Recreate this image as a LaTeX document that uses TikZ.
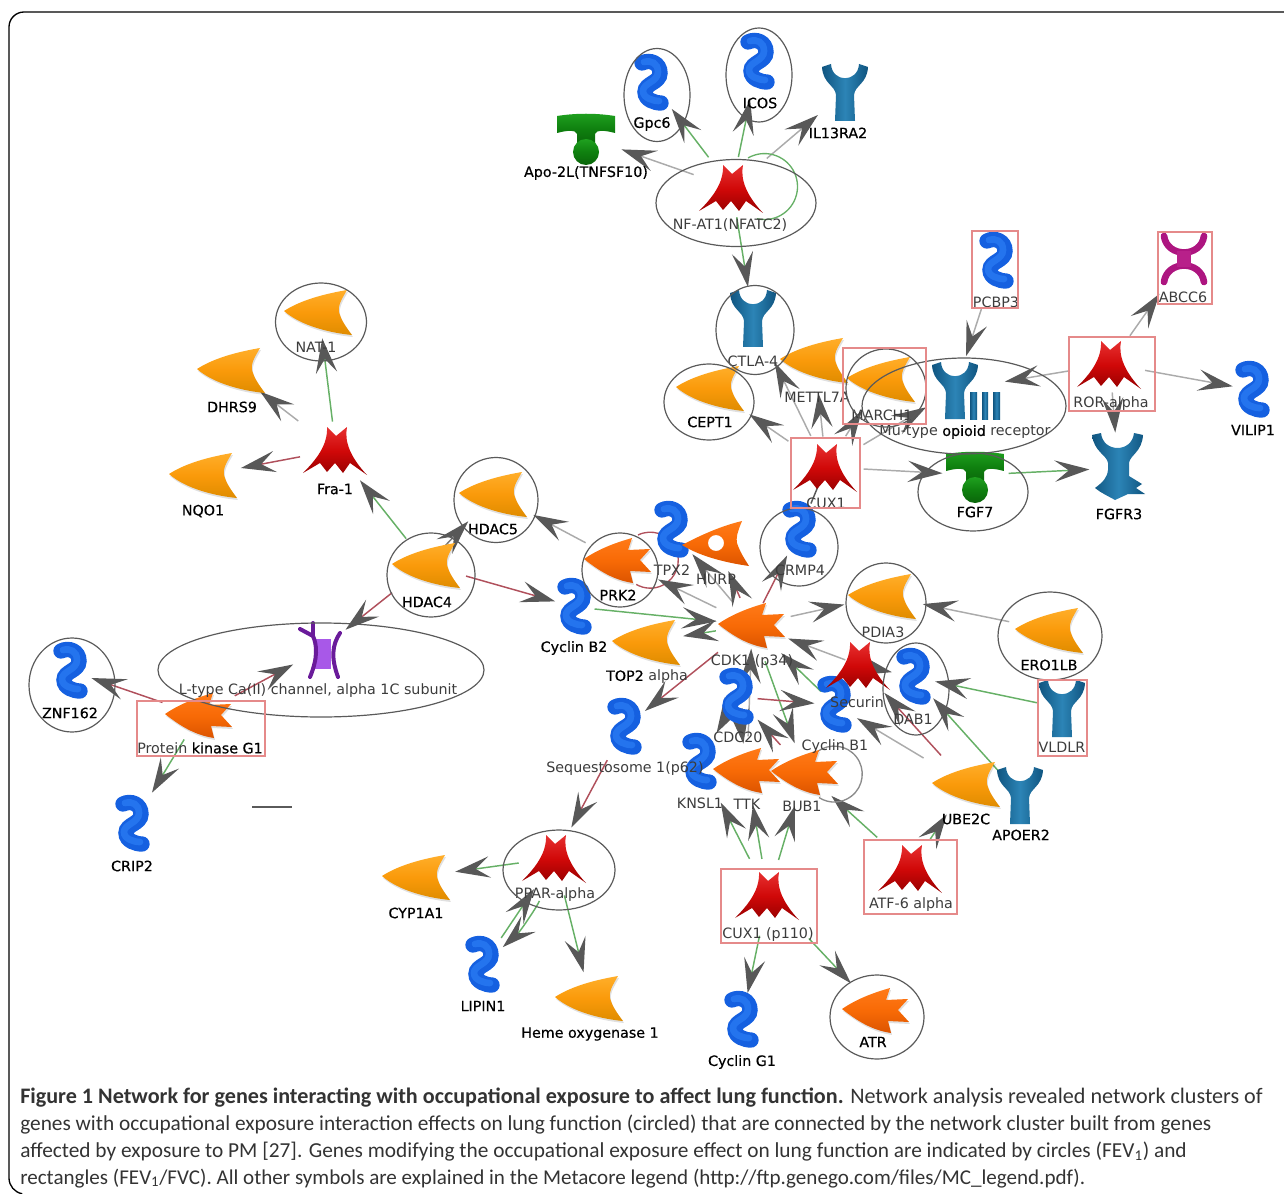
\documentclass[tikz,border=0pt]{standalone}
\usepackage{fontspec}
\setmainfont{Carlito}
\newfontfamily\labn{DejaVu Sans}
\newfontfamily\labb{DejaVu Sans}[FakeBold=0.5]
\usetikzlibrary{arrows.meta,calc}
\definecolor{tipgray}{HTML}{585858}
\definecolor{eggreen}{HTML}{66B066}
\definecolor{egred}{HTML}{B0505C}
\definecolor{eggray}{HTML}{ABABAB}
\definecolor{ringc}{HTML}{5A5A5A}
\definecolor{selc}{HTML}{E58A8A}
\definecolor{labc}{HTML}{3C3C3C}
\definecolor{capc}{HTML}{333333}
\definecolor{orgA}{HTML}{FFAE2A}\definecolor{orgB}{HTML}{DF8C00}\definecolor{orgC}{HTML}{FA9A0A}
\definecolor{kinA}{HTML}{FF7A18}\definecolor{kinB}{HTML}{DC5400}\definecolor{kinC}{HTML}{F86A06}
\definecolor{redA}{HTML}{E63030}\definecolor{redB}{HTML}{960000}\definecolor{redC}{HTML}{D00808}
\definecolor{bluA}{HTML}{105580}\definecolor{bluC}{HTML}{2C84B6}
\definecolor{grnA}{HTML}{1FA01F}\definecolor{grnB}{HTML}{0A650A}\definecolor{grnC}{HTML}{0F800F}
\definecolor{sqA}{HTML}{1560E0}\definecolor{sqB}{HTML}{2474EE}
\definecolor{magA}{HTML}{AD1580}\definecolor{magB}{HTML}{B8208A}
\definecolor{purA}{HTML}{6A1B9A}\definecolor{purB}{HTML}{A858E8}
\tikzset{
  px/.style={x=0.75pt,y=-0.75pt},
  hub/.style={circle,inner sep=0pt,minimum size=0.5pt},
  gap/.style args={#1/#2}{shorten <=#1*0.75pt,shorten >=#2*0.75pt},
  arr/.style={line width=1.1pt,-{Stealth[length=26pt,width=16pt,inset=10.5pt,color=tipgray]}},
  eg/.style={arr,draw=eggreen},
  er/.style={arr,draw=egred},
  ek/.style={arr,draw=eggray},
  ed/.style={arr,draw=tipgray!80},
  ring/.style={draw=ringc,line width=0.9pt},
  sel/.style={draw=selc,line width=0.9pt},
  lab/.style={inner sep=0pt,font=\labn\fontsize{10.7pt}{12pt}\selectfont,text=labc},
  labk/.style={inner sep=0pt,font=\labb\fontsize{10.7pt}{12pt}\selectfont,text=black},
  capl/.style={anchor=base west,inner sep=0pt,font=\fontsize{16pt}{18pt}\selectfont,text=capc},
  orgfill/.style={top color=orgA,bottom color=orgB,middle color=orgC},
  kinfill/.style={top color=kinA,bottom color=kinB,middle color=kinC},
  redfill/.style={top color=redA,bottom color=redB,middle color=redC},
  bluefill/.style={left color=bluA,right color=bluA,middle color=bluC},
  grnfill/.style={top color=grnA,bottom color=grnB,middle color=grnC},
  pics/ligand/.style={code={
    \def\shp{(-35,-1) .. controls (-18,-12) and (5,-18) .. (28,-22) .. controls (21,-10) and (19,-6) .. (20,0) .. controls (22,8) and (27,15) .. (33,23) .. controls (12,21) and (-18,14) .. (-35,-1) -- cycle}
    \fill[black,opacity=.12,shift={(1,2)}] \shp;
    \shade[orgfill] \shp;}},
  pics/kinase/.style={code={
    \def\shp{(-34,-1) .. controls (-18,-12) and (0,-18) .. (14,-22) -- (10,-10) -- (32,-11) -- (22,0) -- (33,12) -- (12,11) -- (15,23) .. controls (-5,20) and (-20,10) .. (-34,-1) -- cycle}
    \fill[black,opacity=.12,shift={(1,2)}] \shp;
    \shade[kinfill] \shp;}},
  pics/tfstar/.style={code={
    \def\shp{(-9,-23) -- (0,-14) -- (11,-23) .. controls (8,-8) and (15,8) .. (31,25) -- (14,13) -- (7,23) -- (-1,13) -- (-9,22) -- (-16,13) -- (-33,23) .. controls (-20,10) and (-8,-5) .. (-9,-23) -- cycle}
    \shade[redfill] \shp;}},
  pics/squig/.style={code={
    \draw[line cap=round,line width=11.5pt,draw=sqA] (-10,-20) .. controls (-2,-24) and (8,-20) .. (8,-10) .. controls (8,0) and (-7,0) .. (-7,9) .. controls (-7,17) and (3,20) .. (9,20);
    \draw[line cap=round,line width=5pt,draw=sqB] (-8,-21) .. controls (-1,-23) and (6,-20) .. (6,-11) .. controls (6,-1) and (-9,0) .. (-9,8) .. controls (-9,15) and (1,18) .. (7,18);}},
  pics/yrec/.style={code={
    \shade[bluefill] (-23,-25) -- (-14,-28) .. controls (-13,-9) and (13,-9) .. (14,-28) -- (23,-25) .. controls (22,-8) and (10,-7) .. (9,3) -- (10,29) -- (-10,29) -- (-9,3) .. controls (-10,-7) and (-22,-8) .. (-23,-25) -- cycle;}},
  pics/muopi/.style={code={
    \shade[bluefill] (-23,-25) -- (-14,-28) .. controls (-13,-9) and (13,-9) .. (14,-28) -- (23,-25) .. controls (22,-8) and (10,-7) .. (9,3) -- (10,29) -- (-10,29) -- (-9,3) .. controls (-10,-7) and (-22,-8) .. (-23,-25) -- cycle;
    \shade[bluefill] (15,2) rectangle (22,29);
    \shade[bluefill] (27,2) rectangle (33,29);
    \shade[bluefill] (38,2) rectangle (45,29);}},
  pics/fgfr/.style={code={
    \shade[bluefill] (-26,-33) -- (-17,-35) .. controls (-15,-15) and (14,-15) .. (16,-35) -- (25,-33) .. controls (24,-16) and (12,-13) .. (11,-5) -- (11,8) -- (24,16) -- (18,20) -- (27,26) -- (10,26) -- (-3,32) .. controls (-10,28) and (-17,25) .. (-23,20) .. controls (-15,14) and (-11,10) .. (-10,2) -- (-10,-5) .. controls (-11,-13) and (-24,-16) .. (-26,-33) -- cycle;}},
  pics/tlig/.style={code={
    \shade[grnfill] (-29,-21) .. controls (-10,-24) and (10,-24) .. (29,-21) -- (29,-4) .. controls (18,-7) and (10,-7) .. (9,-3) -- (9,8) -- (-9,8) -- (-9,-3) .. controls (-10,-7) and (-18,-7) .. (-29,-4) -- cycle;
    \shade[grnfill] (0,15) circle[radius=13];}},
  pics/hurpg/.style={code={
    \shade[kinfill,even odd rule] (-34,2) .. controls (-15,-8) and (5,-17) .. (26,-22) .. controls (21,-10) and (20,-5) .. (21,0) .. controls (24,9) and (28,15) .. (33,23) .. controls (12,20) and (-15,14) .. (-34,2) -- cycle (0,0) circle[radius=8];}},
  pics/abcx/.style={code={
    \draw[line width=5pt,draw=magA,line cap=round] (-20,-23) .. controls (-17,-1) and (17,-1) .. (20,-23);
    \draw[line width=5pt,draw=magA,line cap=round] (-20,23) .. controls (-17,1) and (17,1) .. (20,23);
    \fill[magB] (-7,-8) rectangle (7,8);}},
  pics/chan/.style={code={
    \fill[purB] (-5,-11) rectangle (11,19);
    \draw[line width=3pt,draw=purA,line cap=round] (-20,-21) -- (-7,-14) .. controls (-3,-5) and (-2,8) .. (-10,27);
    \draw[line width=3pt,draw=purA,line cap=round] (-7,-27) -- (-7,-14);
    \draw[line width=3pt,draw=purA,line cap=round] (20,-17) .. controls (12,-5) and (11,8) .. (18,27);}}
}
\begin{document}
\begin{tikzpicture}[px]
\useasboundingbox (0,0) rectangle (1284,1194);
% frame
\draw[line width=1pt,black] (1284,12) -- (24,12) arc[start angle=-90,end angle=-180,radius=15] -- (9,1178) arc[start angle=180,end angle=100,radius=16];
% node anchors
\node[hub] (NFAT) at (732,188) {};
\node[hub] (GPC) at (652,83) {};
\node[hub] (ICOS) at (758,62) {};
\node[hub] (IL) at (845,92) {};
\node[hub] (APO) at (586,137) {};
\node[hub] (CTLA) at (753,318) {};
\node[hub] (METT) at (815,360) {};
\node[hub] (MARCH) at (882,379) {};
\node[hub] (CEPT) at (711,388) {};
\node[hub] (MU) at (955,390) {};
\node[hub] (PCBP) at (997,261) {};
\node[hub] (ABCC) at (1184,259) {};
\node[hub] (ROR) at (1110,364) {};
\node[hub] (VILIP) at (1253,390) {};
\node[hub] (FGFR) at (1118,468) {};
\node[hub] (FGF) at (975,475) {};
\node[hub] (CUX) at (826,467) {};
\node[hub] (CRMP) at (800,530) {};
\node[hub] (TPX) at (672,530) {};
\node[hub] (HURP) at (716,543) {};
\node[hub] (PRK) at (618,560) {};
\node[hub] (CYB2) at (575,607) {};
\node[hub] (TOP) at (647,642) {};
\node[hub] (CDK) at (752,625) {};
\node[hub] (PDIA) at (883,596) {};
\node[hub] (SEC) at (859,665) {};
\node[hub] (DAB) at (914,677) {};
\node[hub] (CYB1) at (835,705) {};
\node[hub] (CDC) at (737,697) {};
\node[hub] (KNSL) at (700,762) {};
\node[hub] (TTK) at (747,770) {};
\node[hub] (BUB) at (805,772) {};
\node[hub] (SEQ) at (625,727) {};
\node[hub] (UBE) at (967,784) {};
\node[hub] (APOE) at (1020,795) {};
\node[hub] (VLD) at (1062,708) {};
\node[hub] (ERO) at (1050,630) {};
\node[hub] (ATF) at (911,868) {};
\node[hub] (P110) at (768,895) {};
\node[hub] (CYG) at (742,1020) {};
\node[hub] (ATR) at (876,1010) {};
\node[hub] (PPAR) at (555,858) {};
\node[hub] (CYP) at (417,877) {};
\node[hub] (LIP) at (483,965) {};
\node[hub] (HEME) at (590,998) {};
\node[hub] (HD5) at (494,494) {};
\node[hub] (HD4) at (427,565) {};
\node[hub] (FRA) at (336,450) {};
\node[hub] (NAT) at (319,312) {};
\node[hub] (DHR) at (232,370) {};
\node[hub] (NQO) at (204,475) {};
\node[hub] (LTY) at (320,650) {};
\node[hub] (PKG) at (199,715) {};
\node[hub] (ZNF) at (71,671) {};
\node[hub] (CRIP) at (133,824) {};
% connectors
\draw[eg,gap=38/32] (NFAT) -- (GPC);
\draw[eg,gap=31/38] (NFAT) -- (ICOS);
\draw[ek,gap=45/35] (NFAT) -- (IL);
\draw[ek,gap=40/37] (NFAT) -- (APO);
\draw[eg,gap=29/31] (NFAT) -- (CTLA);
\draw[line width=1pt,eggreen] ($(NFAT)+(16,-30)$) arc[start angle=-120,end angle=103,radius=33];
\draw[ek,gap=45/46] (CUX) -- (CEPT);
\draw[ek,gap=34/49] (CUX) -- (CTLA);
\draw[ek,gap=30/33] (CUX) -- (METT);
\draw[ek,gap=36/37] (CUX) -- (MARCH);
\draw[ek,gap=43/33] (CUX) -- (MU);
\draw[ek,gap=37/32] (CUX) -- (FGF);
\draw[line width=1.1pt,tipgray,gap=15/28] (CUX) -- (CRMP);
\draw[eg,gap=33/28] (FGF) -- (FGFR);
\draw[ek,gap=50/35] (PCBP) -- (MU);
\draw[ek,gap=40/50] (ROR) -- (MU);
\draw[ek,gap=34/42] (ROR) -- (ABCC);
\draw[ek,gap=35/20] (ROR) -- (VILIP);
\draw[ek,gap=28/35] (ROR) -- (FGFR);
\draw[eg,gap=28/26] (FRA) -- (NAT);
\draw[ek,gap=47/35] (FRA) -- (DHR);
\draw[er,gap=36/37] (FRA) -- (NQO);
\draw[eg,gap=33/38] (HD4) -- (FRA);
\draw[ed,gap=25/37] (HD4) -- (HD5);
\draw[er,gap=40/20] (HD4) -- (CYB2);
\draw[er,gap=44/32] (HD4) -- (LTY);
\draw[ek,gap=36/44] (PRK) -- (HD5);
\draw[line width=1pt,egred] ($(PRK)+(20,-25)$) arc[start angle=-116,end angle=120,radius=28];
\draw[er,gap=40/30] (PKG) -- (LTY);
\draw[er,gap=38/21] (PKG) -- (ZNF);
\draw[eg,gap=28/36] (PKG) -- (CRIP);
\draw[er,gap=43/25] (CDK) -- (SEQ);
\draw[er,gap=37/34] (SEQ) -- (PPAR);
\draw[eg,gap=36/38] (PPAR) -- (CYP);
\draw[eg,gap=32/37] (LIP) -- (PPAR);
\draw[eg,gap=45/26] (PPAR) to[bend left=14] (LIP);
\draw[eg,gap=38/26] (PPAR) -- (HEME);
\draw[eg,gap=40/45] (P110) -- (KNSL);
\draw[eg,gap=36/35] (P110) -- (TTK);
\draw[eg,gap=36/35] (P110) -- (BUB);
\draw[eg,gap=41/27] (P110) -- (CYG);
\draw[eg,gap=59/36] (P110) -- (ATR);
\draw[eg,gap=45/35] (ATF) -- (BUB);
\draw[eg,gap=34/36] (ATF) -- (UBE);
\draw[ek,gap=50/25] (UBE) -- (CYB1);
\draw[er,gap=38/37] (UBE) -- (SEC);
\draw[eg,gap=30/28] (APOE) -- (DAB);
\draw[eg,gap=25/21] (VLD) -- (DAB);
\draw[ek,gap=41/40] (ERO) -- (PDIA);
\draw[ed,gap=15/22] (SEC) -- (DAB);
\draw[ek,gap=14/38] (SEC) -- (CDK);
\draw[ek,gap=39/39] (CDK) -- (PDIA);
\draw[ek,gap=39/44] (CDK) -- (PRK);
\draw[ek,gap=29/31] (CDK) -- (TPX);
\draw[er,gap=29/30] (CDK) -- (HURP);
\draw[er,gap=24/28] (CDK) -- (CRMP);
\draw[eg,gap=19/35] (CYB2) -- (CDK);
\draw[eg,gap=36/36] (CDK) -- (TOP);
\draw[eg,gap=19/40] (CYB1) -- (CDK);
\draw[eg,gap=38/30] (CDK) -- (BUB);
\draw[ek,gap=33/23] (TTK) -- (CDK);
\draw[ed,gap=14/33] (CDC) -- (KNSL);
\draw[ed,gap=24/26] (CDC) -- (TTK);
\draw[er,gap=36/30] (BUB) -- (CDC);
\draw[er,gap=20/20] (CDC) -- (CYB1);
\draw[line width=1pt,ringc!70] ($(BUB)+(12,-20)$) arc[start angle=-128,end angle=123,radius=28];
% stray bar
\draw[line width=1.2pt,ringc] (252,807) -- (292,807);
% glyphs
\pic at (GPC) {squig}; \pic at (ICOS) {squig}; \pic at (IL) {yrec}; \pic at (APO) {tlig};
\pic at (NFAT) {tfstar}; \pic at (CTLA) {yrec}; \pic at (METT) {ligand}; \pic at (MARCH) {ligand};
\pic at (CEPT) {ligand}; \pic at (MU) {muopi}; \pic at (PCBP) {squig}; \pic at (ABCC) {abcx};
\pic at (ROR) {tfstar}; \pic at (VILIP) {squig}; \pic at (FGFR) {fgfr}; \pic at (FGF) {tlig};
\pic at (CUX) {tfstar}; \pic at (CRMP) {squig}; \pic at (TPX) {squig}; \pic at (HURP) {hurpg};
\pic at (PRK) {kinase}; \pic at (CYB2) {squig}; \pic at (TOP) {ligand}; \pic at (CDK) {kinase};
\pic at (PDIA) {ligand}; \pic at (DAB) {squig}; \pic at (CYB1) {squig}; \pic at (SEC) {tfstar};
\pic at (CDC) {squig}; \pic at (KNSL) {squig}; \pic at (TTK) {kinase}; \pic at (BUB) {kinase};
\pic at (SEQ) {squig}; \pic at (UBE) {ligand}; \pic at (APOE) {yrec}; \pic at (VLD) {yrec};
\pic at (ERO) {ligand}; \pic at (ATF) {tfstar}; \pic at (P110) {tfstar}; \pic at (CYG) {squig};
\pic at (ATR) {kinase}; \pic at (PPAR) {tfstar}; \pic at (CYP) {ligand}; \pic at (LIP) {squig};
\pic at (HEME) {ligand}; \pic at (HD5) {ligand}; \pic at (HD4) {ligand}; \pic at (FRA) {tfstar};
\pic at (NAT) {ligand}; \pic at (DHR) {ligand}; \pic at (NQO) {ligand}; \pic at (LTY) {chan};
\pic at (PKG) {kinase}; \pic at (ZNF) {squig}; \pic at (CRIP) {squig};
% labels
\node[lab] (lNFAT) at (730,225) {NF-AT1(NFATC2)};
\node[labk] (lGPC) at (652,124) {Gpc6};
\node[labk] (lICOS) at (760,103) {ICOS};
\node[labk] (lIL) at (838,133) {IL13RA2};
\node[labk] (lAPO) at (586,173) {Apo-2L(TNFSF10)};
\node[lab] (lCTLA) at (753,361) {CTLA-4};
\node[lab] (lMETT) at (817,397) {METTL7A};
\node[lab] (lMARCH) at (882,415) {MARCH1};
\node[labk] (lCEPT) at (710,422) {CEPT1};
\node[lab] (lMU) at (965,432) {Mu-type {\labb\color{black}opioid} receptor};
\node[lab] (lPCBP) at (996,302) {PCBP3};
\node[lab] (lABCC) at (1183,297) {ABCC6};
\node[lab] (lROR) at (1111,404) {ROR-alpha};
\node[labk] (lVILIP) at (1253,430) {VILIP1};
\node[labk] (lFGFR) at (1119,514) {FGFR3};
\node[labk] (lFGF) at (975,512) {FGF7};
\node[lab] (lCUX) at (826,503) {CUX1};
\node[lab] (lCRMP) at (800,570) {CRMP4};
\node[lab] (lTPX) at (672,570) {TPX2};
\node[lab] (lHURP) at (716,579) {HURP};
\node[labk] (lPRK) at (618,595) {PRK2};
\node[labk] (lCYB2) at (574,648) {Cyclin B2};
\node[lab] (lTOP) at (647,677) {{\labb\color{black}TOP2} alpha};
\node[lab] (lCDK) at (752,662) {CDK1 (p34)};
\node[lab] (lPDIA) at (883,632) {PDIA3};
\node[lab] (lSEC) at (857,702) {Securin};
\node[lab] (lDAB) at (913,719) {DAB1};
\node[lab] (lCYB1) at (835,747) {Cyclin B1};
\node[lab] (lCDC) at (738,737) {CDC20};
\node[lab] (lSEQ) at (625,769) {Sequestosome 1(p62)};
\node[lab] (lKNSL) at (700,803) {KNSL1};
\node[lab] (lTTK) at (747,804) {TTK};
\node[lab] (lBUB) at (802,806) {BUB1};
\node[labk] (lUBE) at (966,819) {UBE2C};
\node[labk] (lAPOE) at (1021,835) {APOER2};
\node[lab] (lVLD) at (1062,747) {VLDLR};
\node[labk] (lERO) at (1049,665) {ERO1LB};
\node[lab] (lATF) at (911,905) {ATF-6 alpha};
\node[lab] (lP110) at (768,935) {CUX1 (p110)};
\node[labk] (lCYG) at (742,1062) {Cyclin G1};
\node[labk] (lATR) at (873,1042) {ATR};
\node[lab] (lPPAR) at (555,895) {PPAR-alpha};
\node[labk] (lCYP) at (416,913) {CYP1A1};
\node[labk] (lLIP) at (483,1006) {LIPIN1};
\node[labk] (lHEME) at (590,1034) {Heme oxygenase 1};
\node[labk] (lHD5) at (493,529) {HDAC5};
\node[labk] (lHD4) at (427,602) {HDAC4};
\node[labk] (lFRA) at (335,489) {Fra-1};
\node[lab] (lNAT) at (316,347) {NAT-1};
\node[labk] (lDHR) at (232,407) {DHRS9};
\node[labk] (lNQO) at (203,511) {NQO1};
\node[lab] (lLTY) at (318,691) {L-type Ca(II) channel, alpha 1C subunit};
\node[lab] (lPKG) at (200,748) {Protein {\labb\color{black}kinase G1}};
\node[labk] (lZNF) at (70,713) {ZNF162};
\node[labk] (lCRIP) at (132,866) {CRIP2};
% circled and boxed genes
\draw[ring] (736,203) ellipse[x radius=80,y radius=43.5];
\draw[ring] (657,95) ellipse[x radius=33,y radius=46.5];
\draw[ring] (759,75) ellipse[x radius=33,y radius=47];
\draw[ring] (755,330) ellipse[x radius=39,y radius=44.5];
\draw[ring] (886,388) ellipse[x radius=40,y radius=39];
\draw[ring] (709,402) ellipse[x radius=45,y radius=38];
\draw[ring] (964,406) ellipse[x radius=102,y radius=48];
\draw[ring] (973,492) ellipse[x radius=55,y radius=39];
\draw[ring] (799,547) ellipse[x radius=39,y radius=39];
\draw[ring] (620,570) ellipse[x radius=38,y radius=37];
\draw[ring] (886,603) ellipse[x radius=40,y radius=40];
\draw[ring] (916,689) ellipse[x radius=33,y radius=46];
\draw[ring] (1050,636) ellipse[x radius=52,y radius=44];
\draw[ring] (877,1017) ellipse[x radius=47,y radius=42];
\draw[ring] (559,870) ellipse[x radius=56,y radius=40];
\draw[ring] (496,500) ellipse[x radius=42,y radius=42.5];
\draw[ring] (431,575) ellipse[x radius=44,y radius=42];
\draw[ring] (321,322) ellipse[x radius=45.5,y radius=39];
\draw[ring] (321,670) ellipse[x radius=163,y radius=47];
\draw[ring] (72,685) ellipse[x radius=43,y radius=47];
\draw[sel] (843,348) rectangle (926,424);
\draw[sel] (972,231) rectangle (1018,308);
\draw[sel] (1158,232) rectangle (1212,304);
\draw[sel] (1069,337) rectangle (1155,411);
\draw[sel] (791,438) rectangle (860,508);
\draw[sel] (1038,680) rectangle (1087,756);
\draw[sel] (864,840) rectangle (957,914);
\draw[sel] (721,869) rectangle (817,943);
\draw[sel] (137,701) rectangle (265,756);
% caption
\node[capl,font=\fontsize{16.6pt}{18pt}\selectfont] (cap1) at (20,1103) {\textbf{Figure 1 Network for genes interacting with occupational exposure to affect lung function.} Network analysis revealed network clusters of};
\node[capl] (cap2) at (20,1130) {genes with occupational exposure interaction effects on lung function (circled) that are connected by the network cluster built from genes};
\node[capl] (cap3) at (20,1157) {affected by exposure to PM [27]. Genes modifying the occupational exposure effect on lung function are indicated by circles (FEV\textsubscript{1}) and};
\node[capl,font=\fontsize{15.8pt}{18pt}\selectfont] (cap4) at (20,1184) {rectangles (FEV\textsubscript{1}/FVC). All other symbols are explained in the Metacore legend (http://ftp.genego.com/files/MC\_legend.pdf).};
\end{tikzpicture}
\end{document}
